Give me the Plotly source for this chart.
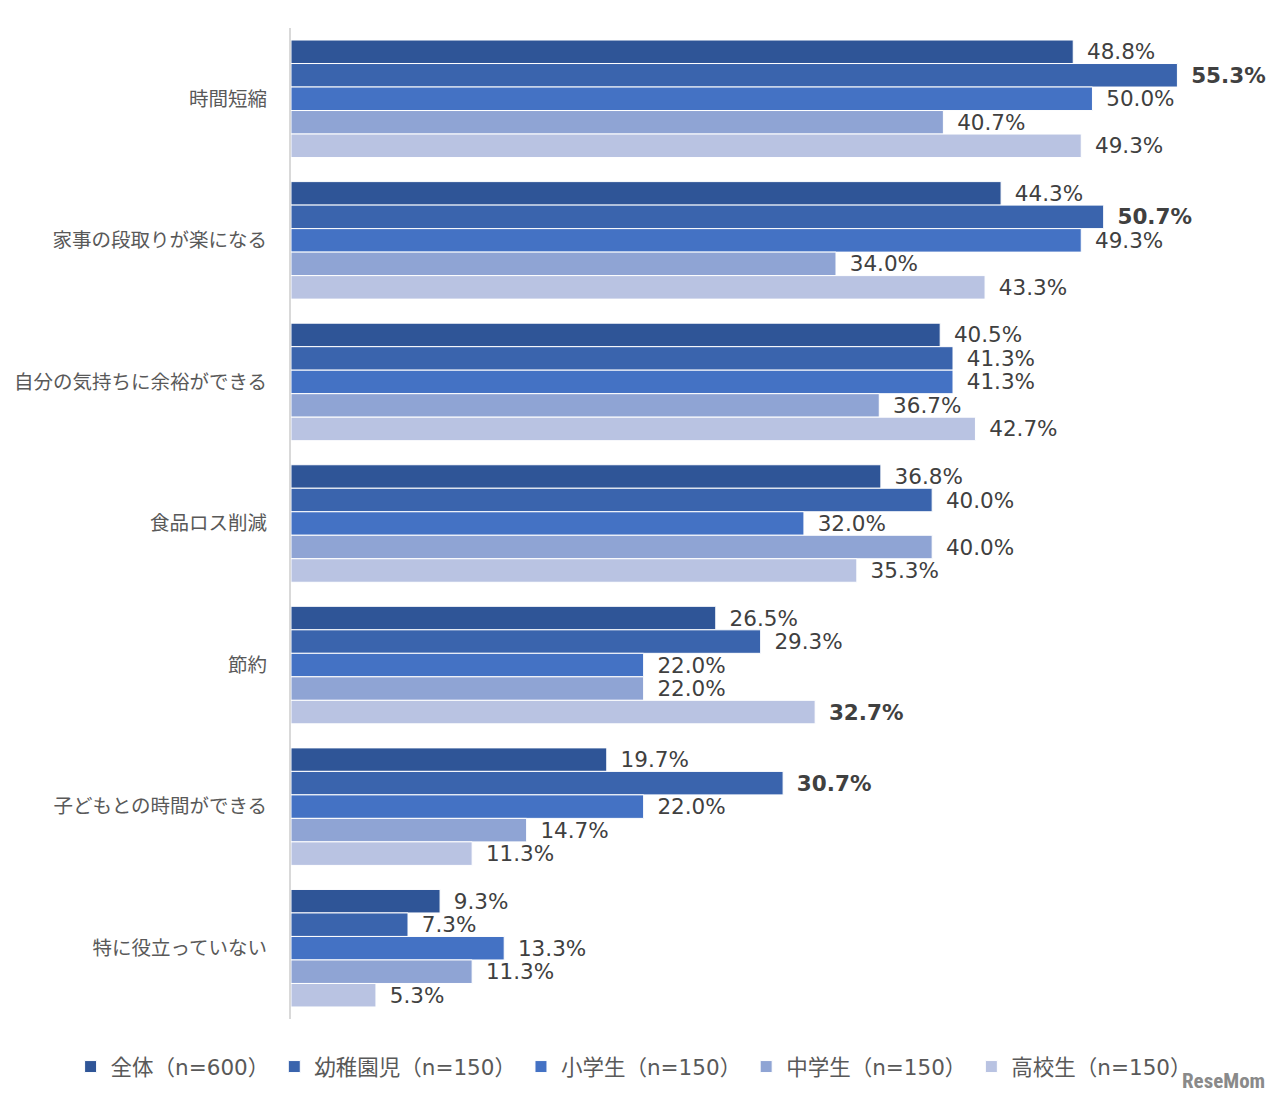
import plotly.graph_objects as go

categories = ["時間短縮", "家事の段取りが楽になる", "自分の気持ちに余裕ができる", "食品ロス削減",
              "節約", "子どもとの時間ができる", "特に役立っていない"]
series_names = ["全体（n=600）", "幼稚園児（n=150）", "小学生（n=150）", "中学生（n=150）", "高校生（n=150）"]
zentai = [48.8, 44.3, 40.5, 36.8, 26.5, 19.7, 9.3]
youchien = [55.3, 50.7, 41.3, 40.0, 29.3, 30.7, 7.3]
shougaku = [50.0, 49.3, 41.3, 32.0, 22.0, 22.0, 13.3]
chuugaku = [40.7, 34.0, 36.7, 40.0, 22.0, 14.7, 11.3]
koukou = [49.3, 43.3, 42.7, 35.3, 32.7, 11.3, 5.3]
# highlighted (bold) labels as in the source chart
bold_flags = [
    [False] * 7,
    [True, True, False, False, False, True, False],
    [False] * 7,
    [False] * 7,
    [False, False, False, False, True, False, False],
]
colors = ["#2F5597", "#3A64AD", "#4472C4", "#8FA4D4", "#B9C3E2"]

series = [zentai, youchien, shougaku, chuugaku, koukou]

FONT = "DejaVu Sans, Noto Sans CJK JP, sans-serif"
fig = go.Figure()
for name, vals, col, bf in zip(series_names, series, colors, bold_flags):
    texts = []
    for v, b in zip(vals, bf):
        lab = f"{v:.1f}%"
        if b:
            lab = f"<b>{lab}</b>"
        texts.append("\u2002" + lab)
    fig.add_trace(go.Bar(
        y=categories, x=vals, name=name, orientation="h",
        marker=dict(color=col, line=dict(color="white", width=1)),
        text=texts, textposition="outside", cliponaxis=False, constraintext="none",
        textfont=dict(family=FONT, size=21.5, color="#404040"),
        texttemplate="%{text}",
    ))

fig.update_layout(
    width=1280, height=1103,
    paper_bgcolor="white", plot_bgcolor="white",
    barmode="group", bargap=0.17, bargroupgap=0,
    margin=dict(l=0, r=0, t=28, b=84, autoexpand=False),
    font=dict(family=FONT, color="#595959"),
    showlegend=True,
    legend=dict(orientation="h", xref="paper", yref="container",
                x=0.495, xanchor="center", y=0.033, yanchor="middle",
                font=dict(family=FONT, size=21.5, color="#595959"),
                itemwidth=30, traceorder="normal"),
    xaxis=dict(domain=[291 / 1280, 1], range=[0, 61.7], showgrid=False,
               showticklabels=False, zeroline=False, showline=False),
    yaxis=dict(autorange="reversed", showgrid=False, showline=True, linecolor="#D9D9D9",
               linewidth=2, ticks="", ticklabelstandoff=18, automargin=False,
               tickfont=dict(family=FONT, size=19.5, color="#595959")),
)
fig.add_annotation(text="<b>ReseMom</b>", xref="paper", yref="paper", x=0.99, y=0,
                   xanchor="right", yanchor="top", yshift=-48, showarrow=False,
                   font=dict(family="Roboto Condensed, Roboto, sans-serif", size=21, color="#8a8a8a"))

fig.write_html("out.html")
